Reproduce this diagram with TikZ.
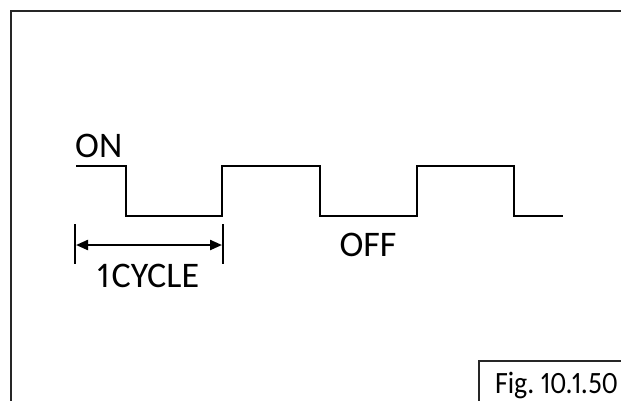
\documentclass[tikz,border=0pt]{standalone}
\usepackage{fontspec}
\setmainfont[Numbers=Proportional]{Carlito}
\usetikzlibrary{arrows.meta}
\begin{document}
\begin{tikzpicture}[x=1pt,y=-1pt,
  wave/.style={line width=2.6pt, line join=miter},
  frame/.style={line width=1.8pt, draw=black!85},
  tick/.style={line width=2.2pt},
  dim/.style={line width=2.2pt, {Triangle[length=12pt,width=10pt]}-{Triangle[length=12pt,width=10pt]}},
  lbl/.style={inner sep=0pt, font=\fontsize{36}{40}\selectfont},
  figlbl/.style={inner sep=0pt, font=\fontsize{31}{36}\selectfont}]
\useasboundingbox (0,0) rectangle (621,400);
% outer frame
\draw[frame] (11,402) -- (11,11) -- (623,11);
% fig box
\draw[frame] (479,402) -- (479,361) -- (623,361);
\node[figlbl, anchor=base east] (fig) at (618,393) {\scalebox{0.9}[1]{Fig.\hspace{0.22em}10.1.50}};
% waveform
\coordinate (w0) at (76,166);
\coordinate (w1) at (126,166);
\coordinate (w2) at (126,216);
\coordinate (w3) at (222,216);
\coordinate (w4) at (222,166);
\coordinate (w5) at (320,166);
\coordinate (w6) at (320,216);
\coordinate (w7) at (417,216);
\coordinate (w8) at (417,166);
\coordinate (w9) at (514,166);
\coordinate (w10) at (514,216);
\coordinate (w11) at (563,216);
\draw[wave] (w0) -- (w1) -- (w2) -- (w3) -- (w4) -- (w5) -- (w6) -- (w7) -- (w8) -- (w9) -- (w10) -- (w11);
% labels
\node[lbl, anchor=base west] (on) at (75,157) {ON};
\node[lbl, anchor=base] (off) at (368,256) {OFF};
\node[lbl, anchor=base] (cyc) at (148,287) {1\hspace{0.06em}CYCLE};
% dimension
\coordinate (t1a) at (75,224);
\coordinate (t1b) at (75,264);
\coordinate (t2a) at (223,224);
\coordinate (t2b) at (223,264);
\draw[tick] (t1a) -- (t1b);
\draw[tick] (t2a) -- (t2b);
\coordinate (a1) at (76,245);
\coordinate (a2) at (222,245);
\draw[dim] (a1) -- (a2);
\end{tikzpicture}
\end{document}
